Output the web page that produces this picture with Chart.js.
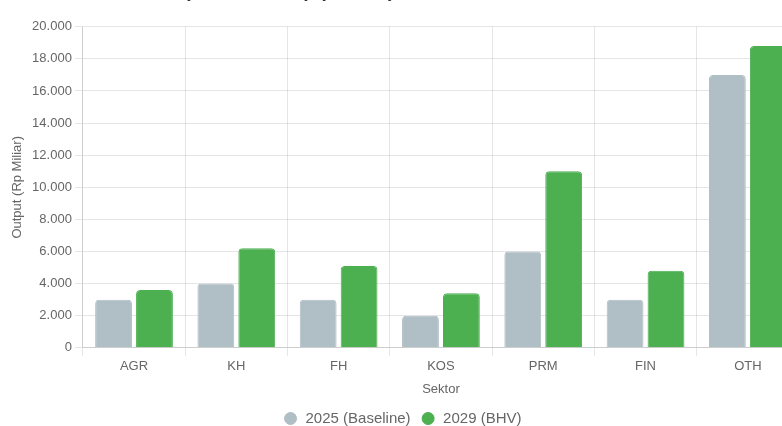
<!DOCTYPE html>
<html>
<head>
<meta charset="utf-8">
<script src="https://cdn.jsdelivr.net/npm/chart.js@4.4.1/dist/chart.umd.min.js"></script>
<style>
  html, body { margin: 0; padding: 0; background: #fff; overflow: hidden; width: 782px; height: 426px; }
  #wrap { position: absolute; left: 0; top: -34px; width: 803px; height: 474px; }
</style>
</head>
<body>
<div id="wrap"><canvas id="c"></canvas></div>
<script>
const categories = ["AGR", "KH", "FH", "KOS", "PRM", "FIN", "OTH"];
const baseline2025 = [3000, 4000, 3000, 2000, 6000, 3000, 17000];
const bhv2029 = [3600, 6200, 5100, 3400, 11000, 4800, 18800];
const seriesLabels = ["2025 (Baseline)", "2029 (BHV)"];
const titleText = "Output Sektoral (Rp Miliar): Baseline 2025 vs BHV 2029";
const yTitle = "Output (Rp Miliar)";
const xTitle = "Sektor";

const FONT = "'Liberation Sans', Arial, sans-serif";
Chart.defaults.font.family = FONT;
Chart.defaults.color = "#666";

const fmt = v => String(v).replace(/\B(?=(\d{3})+(?!\d))/g, ".");

new Chart(document.getElementById("c"), {
  type: "bar",
  data: {
    labels: categories,
    datasets: [
      { label: seriesLabels[0], data: baseline2025, backgroundColor: "#B0BEC5", borderColor: "#B0BEC5", borderWidth: 1, borderRadius: 4 },
      { label: seriesLabels[1], data: bhv2029, backgroundColor: "#4CAF50", borderColor: "#4CAF50", borderWidth: 1, borderRadius: 4 }
    ]
  },
  options: {
    responsive: true,
    maintainAspectRatio: false,
    animation: false,
    layout: { padding: { left: 5.5, right: 4, top: 4, bottom: 4 } },
    plugins: {
      title: { display: true, text: titleText, font: { size: 19, weight: "bold" }, color: "#333", padding: { top: 10, bottom: 24 } },
      legend: { position: "bottom", labels: { usePointStyle: true, pointStyle: "circle", boxWidth: 15, boxHeight: 8.5, padding: 10, font: { size: 15 } } },
      tooltip: { enabled: false }
    },
    scales: {
      x: {
        title: { display: true, text: xTitle, font: { size: 13 }, padding: { top: 4, bottom: 4 } },
        ticks: { font: { size: 13 } }
      },
      y: {
        min: 0, max: 20000,
        ticks: { stepSize: 2000, callback: v => fmt(v), font: { size: 13 } },
        title: { display: true, text: yTitle, font: { size: 13 } }
      }
    }
  }
});
</script>
</body>
</html>
